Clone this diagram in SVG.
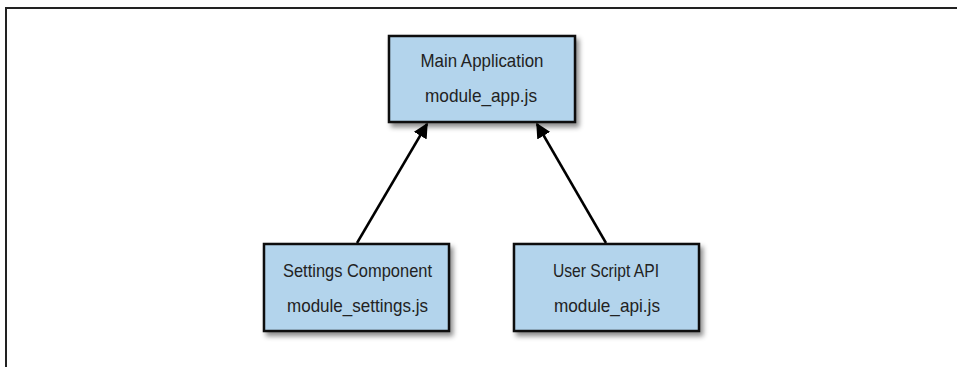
<svg xmlns="http://www.w3.org/2000/svg" width="957" height="367" viewBox="0 0 957 367">
<style>
.box{fill:#b3d4ec;stroke:#111;stroke-width:2.5;filter:url(#sh)}
.t{font-family:"Liberation Sans",Arial,sans-serif;font-size:19px;fill:#222;text-anchor:middle}
.edge{stroke:#000;stroke-width:2.5;fill:none;marker-end:url(#ah)}
</style>
<defs>
<filter id="sh" x="-10%" y="-10%" width="130%" height="140%">
<feDropShadow dx="3" dy="4" stdDeviation="2.5" flood-color="#000" flood-opacity="0.45"/>
</filter>
<marker id="ah" viewBox="0 0 10 10" refX="9" refY="5" markerWidth="6" markerHeight="6" orient="auto" markerUnits="strokeWidth">
<path d="M0,0 L10,5 L0,10 z" fill="#000"/>
</marker>
</defs>
<path d="M6,367 V8 H957" fill="none" stroke="#222" stroke-width="2"/>
<g id="connectors">
<line class="edge" x1="357" y1="243" x2="427" y2="124"/>
<line class="edge" x1="606" y1="243" x2="537" y2="124"/>
</g>
<g id="main">
<rect class="box" x="389" y="36" width="186" height="86"/>
<text class="t" x="482" y="67" textLength="123" lengthAdjust="spacingAndGlyphs">Main Application</text>
<text class="t" x="481" y="102" textLength="112" lengthAdjust="spacingAndGlyphs">module_app.js</text>
</g>
<g id="settings">
<rect class="box" x="264" y="244" width="185" height="87"/>
<text class="t" x="357.5" y="277" textLength="149" lengthAdjust="spacingAndGlyphs">Settings Component</text>
<text class="t" x="357.5" y="312" textLength="141" lengthAdjust="spacingAndGlyphs">module_settings.js</text>
</g>
<g id="api">
<rect class="box" x="514" y="244" width="185" height="87"/>
<text class="t" x="606" y="277" textLength="106" lengthAdjust="spacingAndGlyphs">User Script API</text>
<text class="t" x="607" y="312" textLength="106" lengthAdjust="spacingAndGlyphs">module_api.js</text>
</g>
</svg>
